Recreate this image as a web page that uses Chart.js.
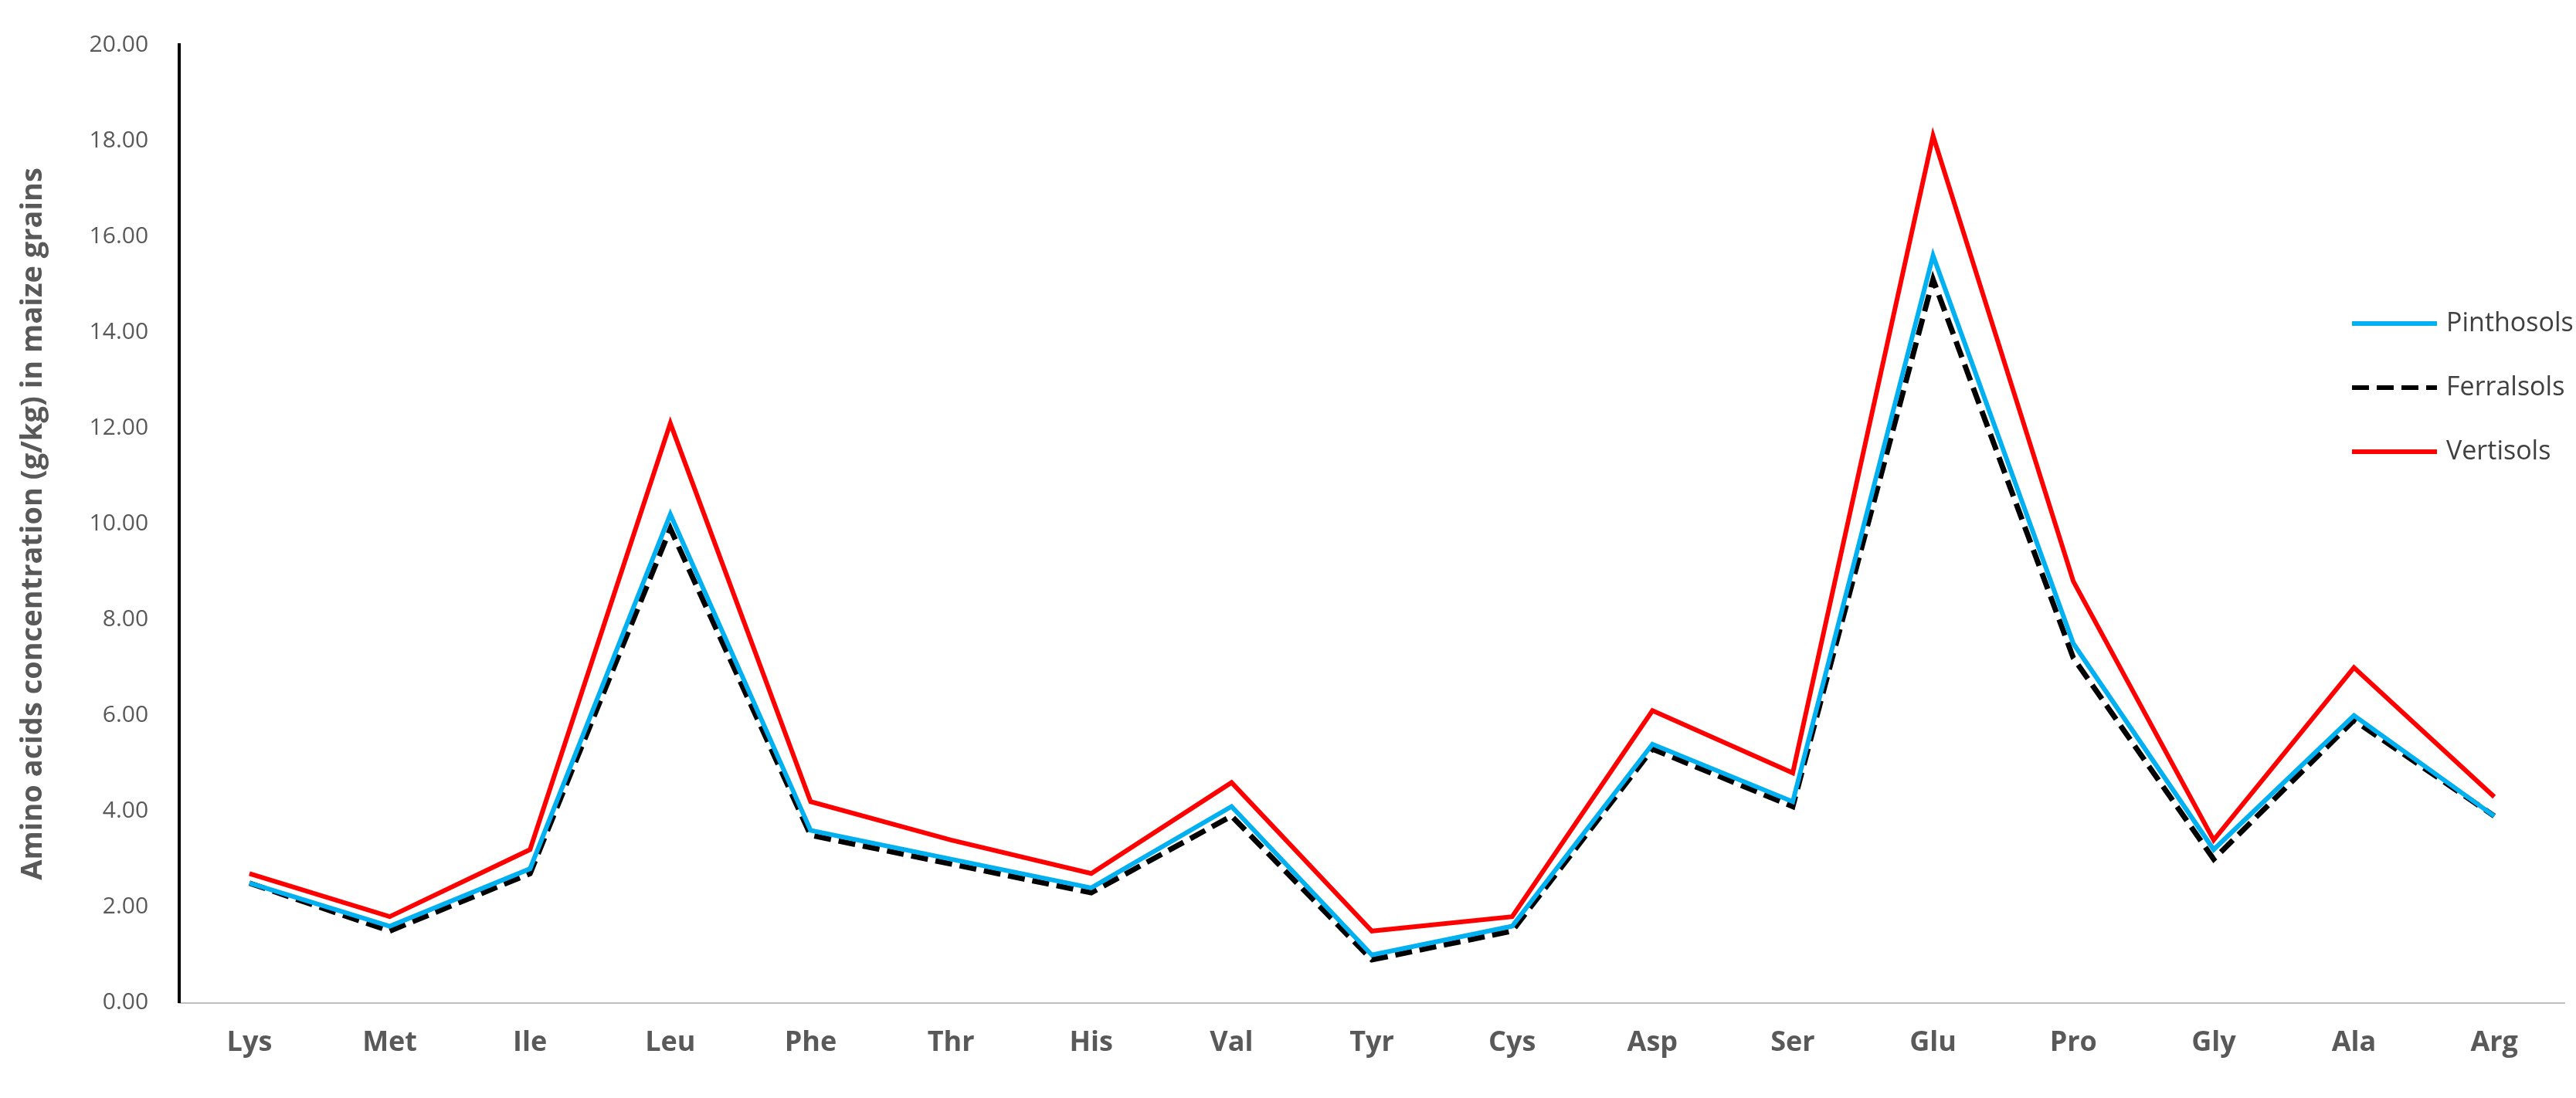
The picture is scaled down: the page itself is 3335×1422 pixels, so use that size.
<!DOCTYPE html>
<html>
<head>
<meta charset="utf-8">
<script src="https://cdn.jsdelivr.net/npm/chart.js@4"></script>
<style>
  html, body { margin: 0; padding: 0; background: #fff; }
  #wrap { width: 3335px; height: 1422px; }
</style>
</head>
<body>
<div id="wrap"><canvas id="myChart" width="3335" height="1422"></canvas></div>
<script>
const categories = ['Lys','Met','Ile','Leu','Phe','Thr','His','Val','Tyr','Cys','Asp','Ser','Glu','Pro','Gly','Ala','Arg'];
const pinthosols = [2.5, 1.6, 2.8, 10.2, 3.6, 3.0, 2.4, 4.1, 1.0, 1.6, 5.4, 4.2, 15.6, 7.5, 3.2, 6.0, 3.9];
const ferralsols = [2.5, 1.5, 2.7, 9.9, 3.5, 2.9, 2.3, 3.9, 0.9, 1.5, 5.3, 4.1, 15.1, 7.2, 3.0, 5.9, 3.9];
const vertisols  = [2.7, 1.8, 3.2, 12.1, 4.2, 3.4, 2.7, 4.6, 1.5, 1.8, 6.1, 4.8, 18.1, 8.8, 3.4, 7.0, 4.3];

const legendPlugin = {
  id: 'sideLegend',
  afterDraw(chart) {
    const c = chart.ctx;
    const x0 = 3045, ys = [419, 502, 585];
    c.save();
    c.font = '34px "Open Sans", sans-serif';
    c.textBaseline = 'middle';
    chart.data.datasets.forEach((ds, i) => {
      c.beginPath();
      c.strokeStyle = ds.borderColor;
      c.lineWidth = 6;
      c.setLineDash(ds.borderDash || []);
      c.moveTo(x0, ys[i]);
      c.lineTo(x0 + 110, ys[i]);
      c.stroke();
      c.setLineDash([]);
      c.fillStyle = '#404040';
      c.fillText(ds.label, x0 + 122, ys[i]);
    });
    c.restore();
  }
};

const ctx = document.getElementById('myChart').getContext('2d');
new Chart(ctx, {
  type: 'line',
  data: {
    labels: categories,
    datasets: [
      { label: 'Pinthosols', data: pinthosols, borderColor: '#00B0F0', borderWidth: 6, pointRadius: 0, tension: 0 },
      { label: 'Ferralsols', data: ferralsols, borderColor: '#000000', borderWidth: 7, borderDash: [22, 10], pointRadius: 0, tension: 0 },
      { label: 'Vertisols', data: vertisols, borderColor: '#FF0000', borderWidth: 6, pointRadius: 0, tension: 0 }
    ]
  },
  options: {
    responsive: false,
    animation: false,
    layout: { padding: { top: 30, right: 15, bottom: 20, left: 10 } },
    plugins: { legend: { display: false }, tooltip: { enabled: false } },
    scales: {
      x: {
        offset: true,
        grid: { display: false, drawTicks: false, offset: true },
        border: { color: '#BFBFBF', width: 2 },
        ticks: { color: '#595959', padding: 30, font: { family: 'Open Sans', size: 36, weight: 'bold' } }
      },
      y: {
        min: 0, max: 20,
        grid: { display: false, drawTicks: false },
        border: { color: '#000000', width: 4 },
        ticks: { stepSize: 2, color: '#595959', padding: 40, font: { family: 'Open Sans', size: 30 },
                 callback: v => v.toFixed(2) },
        title: { display: true, text: 'Amino acids concentration (g/kg) in maize grains', color: '#595959',
                 font: { family: 'Open Sans', size: 38, weight: 'bold' }, padding: 10 }
      }
    }
  },
  plugins: [legendPlugin]
});
</script>
</body>
</html>
